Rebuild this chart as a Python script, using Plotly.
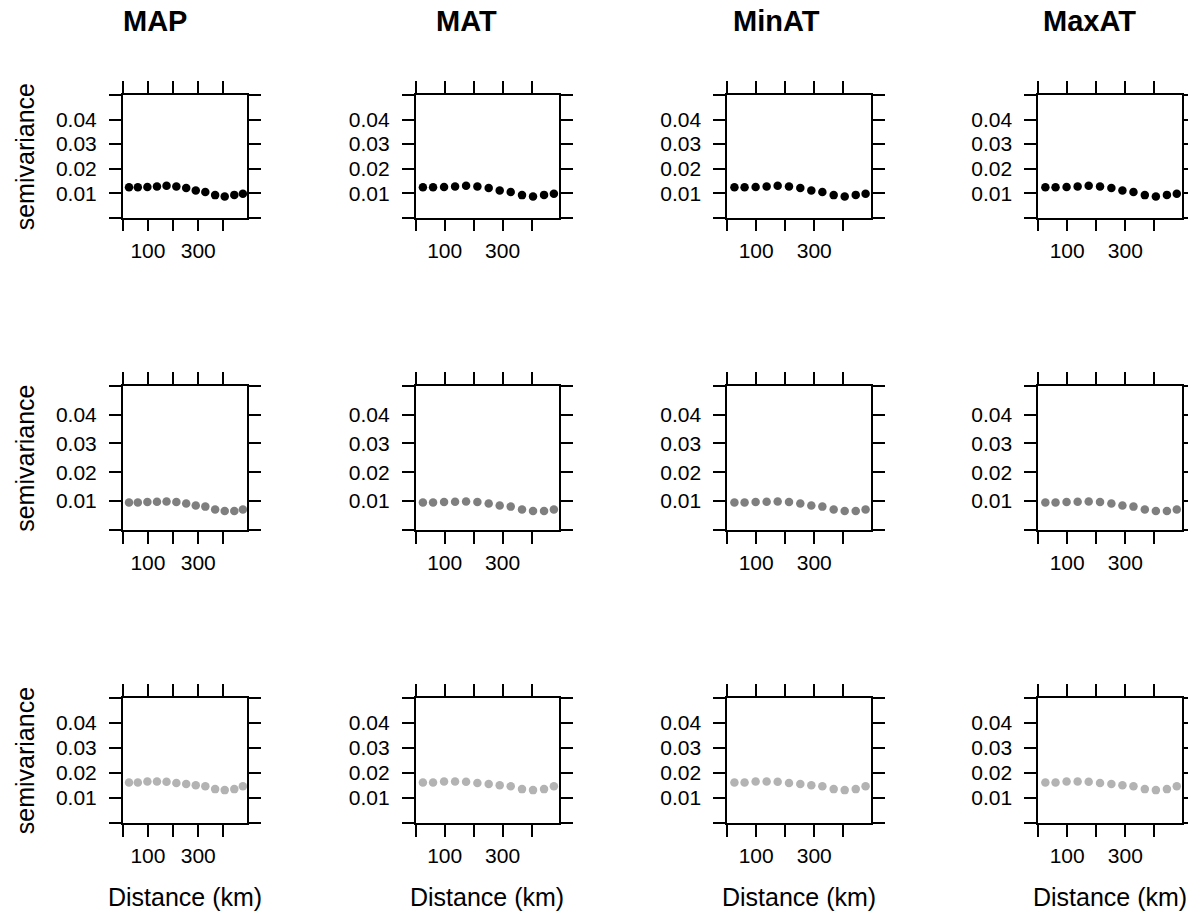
import plotly.graph_objects as go

# ---- data ----
variables = ["MAP", "MAT", "MinAT", "MaxAT"]
distance_km = [25, 60, 98, 136, 174, 213, 252, 290, 328, 367, 405, 443, 477]
semivar_row1 = [0.0124, 0.0124, 0.0125, 0.0127, 0.0130, 0.0127, 0.0121, 0.0111, 0.0105, 0.0092, 0.0086, 0.0093, 0.0098]
semivar_row2 = [0.0095, 0.0095, 0.0097, 0.0098, 0.0099, 0.0097, 0.0092, 0.0085, 0.0081, 0.0071, 0.0066, 0.0066, 0.0071]
semivar_row3 = [0.0161, 0.0161, 0.0165, 0.0165, 0.0164, 0.0159, 0.0155, 0.0150, 0.0146, 0.0135, 0.0131, 0.0135, 0.0146]
row_colors = ["#000000", "#7f7f7f", "#b3b3b3"]
x_tickvals = [0, 100, 200, 300, 400]
x_ticktext = ["", "100", "", "300", ""]
y_tickvals = [0, 0.01, 0.02, 0.03, 0.04, 0.05]
y_ticktext = ["", "0.01", "0.02", "0.03", "0.04", ""]

rows = [semivar_row1, semivar_row2, semivar_row3]

OFF = 8  # page body margin
W, H = 1196 - OFF, 913 - OFF
# panel boxes in page pixels
col_px = [(123, 248), (416.7, 560.5), (729, 873), (1040.7, 1185)]
row_px = [(95, 217.7), (385.7, 530), (697.5, 823)]
title_x_px = [155.5, 467.5, 778.5, 1092]


def px_x(v):
    return (v - OFF) / W


def px_y(v):
    return 1 - (v - OFF) / H


FONT = "Liberation Sans, Arial, Helvetica, sans-serif"

fig = go.Figure()
layout = dict(
    width=W, height=H, margin=dict(l=0, r=0, t=0, b=0),
    paper_bgcolor="white", plot_bgcolor="white", showlegend=False,
    font=dict(family=FONT, color="black"),
)
annotations = []
k = 0
for r, vals in enumerate(rows):
    for c, var in enumerate(variables):
        k += 1
        xa = "x" if k == 1 else f"x{k}"
        ya = "y" if k == 1 else f"y{k}"
        fig.add_trace(go.Scatter(
            x=distance_km, y=vals, mode="markers", xaxis=xa, yaxis=ya,
            marker=dict(color=row_colors[r], size=8.5, line=dict(width=0)),
            cliponaxis=False,
        ))
        x0, x1 = col_px[c]
        y0, y1 = row_px[r]
        common = dict(
            showline=True, linecolor="black", linewidth=1.5, mirror="allticks",
            ticks="outside", ticklen=12, tickwidth=1.5, tickcolor="black",
            showgrid=False, zeroline=False, tickmode="array",
            tickfont=dict(family=FONT, size=21, color="black"),
            fixedrange=True,
        )
        layout["xaxis" if k == 1 else f"xaxis{k}"] = dict(
            common, domain=[px_x(x0), px_x(x1)], range=[0, 495],
            tickvals=x_tickvals, ticktext=x_ticktext, anchor=ya,
            ticklabelstandoff=1,
        )
        layout["yaxis" if k == 1 else f"yaxis{k}"] = dict(
            common, domain=[px_y(y1), px_y(y0)], range=[0, 0.05],
            tickvals=y_tickvals, ticktext=y_ticktext, anchor=xa,
            ticklabelstandoff=8,
        )

for c, var in enumerate(variables):
    annotations.append(dict(
        text=f"<b>{var}</b>", x=px_x(title_x_px[c]), y=px_y(21),
        xref="paper", yref="paper", xanchor="center", yanchor="middle",
        showarrow=False, font=dict(family=FONT, size=29, color="black"),
    ))
    x0, x1 = col_px[c]
    annotations.append(dict(
        text="Distance (km)", x=px_x((x0 + x1) / 2), y=px_y(897),
        xref="paper", yref="paper", xanchor="center", yanchor="middle",
        showarrow=False, font=dict(family=FONT, size=25, color="black"),
    ))
for r in range(3):
    y0, y1 = row_px[r]
    annotations.append(dict(
        text="semivariance", x=px_x(25), y=px_y((y0 + y1) / 2),
        xref="paper", yref="paper", xanchor="center", yanchor="middle",
        textangle=-90, showarrow=False,
        font=dict(family=FONT, size=25, color="black"),
    ))

layout["annotations"] = annotations
fig.update_layout(**layout)
fig.write_html("out.html")
